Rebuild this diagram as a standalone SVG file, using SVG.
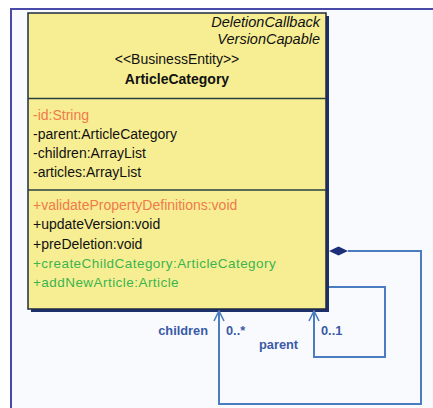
<svg xmlns="http://www.w3.org/2000/svg" width="433" height="408" viewBox="0 0 433 408">
  <defs>
    <marker id="open" viewBox="0 0 12 12" refX="11" refY="6" markerWidth="12" markerHeight="12" markerUnits="userSpaceOnUse" orient="auto">
      <path d="M1,1 L11,6 L1,11" fill="none" stroke="#4a7cc0" stroke-width="1.6"/>
    </marker>
  </defs>
  <style>
    text { font-family: "Liberation Sans", Arial, sans-serif; font-size: 14px; }
    .it { font-style: italic; font-size: 14.5px; }
    .b { font-weight: bold; }
    .orange { fill: #f07a4a; }
    .green { fill: #3cb44c; font-size: 13.5px; letter-spacing: 0.45px; }
    .blk { fill: #111; }
    .lbl { fill: #3a5aa8; font-weight: bold; font-size: 12.8px; }
    .conn { fill: none; stroke: #4a7cc0; stroke-width: 2; }
  </style>

  <!-- canvas -->
  <rect x="0" y="0" width="433" height="408" fill="#ffffff"/>
  <rect x="11" y="9" width="422" height="399" fill="#f9fafd"/>
  <path d="M11,408 V9 H433" fill="none" stroke="#4a4aa8" stroke-width="2"/>

  <!-- ArticleCategory class -->
  <g id="ArticleCategory">
    <rect x="31" y="16" width="298" height="296" fill="#1e2f6e"/>
    <rect x="28" y="13" width="298" height="296" fill="#f7ee94" stroke="#1c2c40" stroke-width="1.5"/>
    <line x1="28" y1="98.5" x2="326" y2="98.5" stroke="#2a4040" stroke-width="1.5"/>
    <line x1="28" y1="190" x2="326" y2="190" stroke="#2a4040" stroke-width="1.5"/>
    <text x="320" y="27" text-anchor="end" class="it blk">DeletionCallback</text>
    <text x="320" y="44" text-anchor="end" class="it blk">VersionCapable</text>
    <text x="177" y="64" text-anchor="middle" class="blk" font-size="13.3">&lt;&lt;BusinessEntity&gt;&gt;</text>
    <text x="177" y="84" text-anchor="middle" class="b blk">ArticleCategory</text>
    <text x="33" y="120" class="orange">-id:String</text>
    <text x="33" y="139" class="blk">-parent:ArticleCategory</text>
    <text x="33" y="158" class="blk">-children:ArrayList</text>
    <text x="33" y="177" class="blk">-articles:ArrayList</text>
    <text x="33" y="210" class="orange">+validatePropertyDefinitions:void</text>
    <text x="33" y="229" class="blk">+updateVersion:void</text>
    <text x="33" y="249" class="blk">+preDeletion:void</text>
    <text x="33" y="268" class="green">+createChildCategory:ArticleCategory</text>
    <text x="33" y="287" class="green">+addNewArticle:Article</text>
  </g>

  <!-- self associations -->
  <g id="connectors">
    <path class="conn" d="M348,251 H421 V404 H219 V311" marker-end="url(#open)"/>
    <path d="M329,251 L338.5,246.5 L348,251 L338.5,255.5 Z" fill="#1e2f7a"/>
    <path class="conn" d="M329,287 H385 V357 H314 V311" marker-end="url(#open)"/>
    <text x="208" y="335" text-anchor="end" class="lbl">children</text>
    <text x="226" y="335" class="lbl">0..*</text>
    <text x="259" y="349" class="lbl" font-weight="normal" font-size="13.3">parent</text>
    <text x="321" y="335" class="lbl">0..1</text>
  </g>
</svg>
